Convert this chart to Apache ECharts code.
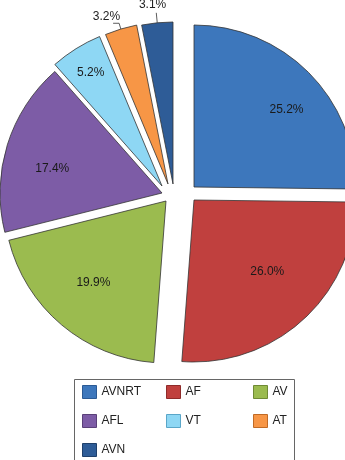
<!DOCTYPE html>
<html>
<head>
<meta charset="utf-8">
<script src="https://cdn.jsdelivr.net/npm/echarts@6/dist/echarts.min.js"></script>
<style>
html,body{margin:0;padding:0;background:#fff}
#chart{width:345px;height:460px}
</style>
</head>
<body>
<div id="chart"></div>
<script>
// data
var categories = ['AVNRT', 'AF', 'AV', 'AFL', 'VT', 'AT', 'AVN'];
var shares = [25.2, 26.0, 19.9, 17.4, 5.2, 3.2, 3.1];

// look
var colors = ['#3d77bc', '#c0403e', '#9bbb4f', '#7d5ca6', '#8ed7f4', '#f79646', '#2e5c97'];
var iconBorders = ['#2b5a94', '#8f2b2a', '#6f8a35', '#5a4079', '#5aa6c8', '#c06a25', '#1f406b'];
// every wedge is pulled out by hand in the original, so each one gets its own tip point
var tips = [[194, 187], [194, 200], [166, 201], [162, 193], [162, 186], [168, 184], [173, 184]];
// how far from the tip the inside % label sits (null = label outside with a line)
var labelDist = [120, 101, 108, 113, 135, null, null];
var labelNudge = [[5, 9], [3, -5], [-1, -3], [1, 10], [2, 4], null, null];
var legendCols = [['AVNRT', 'AFL', 'AVN'], ['AF', 'VT'], ['AV', 'AT']];
var legendLeft = [82, 166, 253];
var R = 162;
var FONT = '"Liberation Sans", Arial, sans-serif';

var chart = echarts.init(document.getElementById('chart'), null, {renderer: 'canvas'});

function fmt(p) {
  return p.value.toFixed(1) + '%';
}
// outside labels sit above the end of their line: an empty 2nd line lifts them
function fmtUp(p) {
  return p.value.toFixed(1) + '%\n';
}

var hidden = {
  itemStyle: {color: 'rgba(0,0,0,0)', borderWidth: 0},
  label: {show: false},
  labelLine: {show: false}
};

var series = [];
categories.forEach(function (name, i) {
  // wedge i, drawn from its own tip
  var data = categories.map(function (n, j) {
    var item = {name: n, value: shares[j]};
    if (j !== i) return Object.assign(item, hidden);
    item.itemStyle = {color: colors[j], borderColor: '#333', borderWidth: 0.8};
    if (labelDist[j] == null) {
      item.label = {
        show: true, position: 'outside', formatter: fmtUp,
        color: '#222', fontSize: 12, fontFamily: FONT,
        lineHeight: j === 6 ? 16 : 14,
        distanceToLabelLine: j === 6 ? -10 : -7
      };
      item.labelLine = {show: true, length: j === 6 ? 10 : 6, length2: j === 6 ? 0 : 6,
        lineStyle: {color: '#333', width: 0.8}};
    } else {
      item.label = {show: false};
      item.labelLine = {show: false};
    }
    return item;
  });
  series.push({
    type: 'pie',
    name: name,
    center: tips[i],
    radius: R,
    silent: true,
    animation: false,
    avoidLabelOverlap: false,
    emphasis: {scale: false},
    data: data
  });
  // inside label for wedge i
  if (labelDist[i] != null) {
    series.push({
      type: 'pie',
      name: name + '-label',
      center: [tips[i][0] + labelNudge[i][0], tips[i][1] + labelNudge[i][1]],
      radius: [0, labelDist[i] * 2],
      silent: true,
      animation: false,
      avoidLabelOverlap: false,
      emphasis: {scale: false},
      data: categories.map(function (n, j) {
        var item = {name: n, value: shares[j]};
        Object.assign(item, hidden);
        if (j === i) {
          item.label = {show: true, position: 'inside', formatter: fmt,
            color: '#1a1a1a', fontSize: 12, fontFamily: FONT, textBorderWidth: 0};
        }
        return item;
      })
    });
  }
});

var legends = legendCols.map(function (col, c) {
  return {
    orient: 'vertical',
    left: legendLeft[c],
    top: 385,
    padding: 0,
    itemWidth: 14,
    itemHeight: 13,
    itemGap: 15,
    selectedMode: false,
    icon: 'rect',
    textStyle: {color: '#222', fontSize: 12, fontFamily: FONT},
    data: col.map(function (n) {
      var k = categories.indexOf(n);
      return {name: n, itemStyle: {color: colors[k], borderColor: iconBorders[k], borderWidth: 1}};
    })
  };
});

chart.setOption({
  backgroundColor: '#fff',
  textStyle: {fontFamily: FONT},
  legend: legends,
  graphic: [{
    type: 'rect',
    silent: true,
    shape: {x: 74.5, y: 379.5, width: 220, height: 100},
    style: {fill: 'none', stroke: '#666', lineWidth: 1}
  }],
  series: series
});
</script>
</body>
</html>
